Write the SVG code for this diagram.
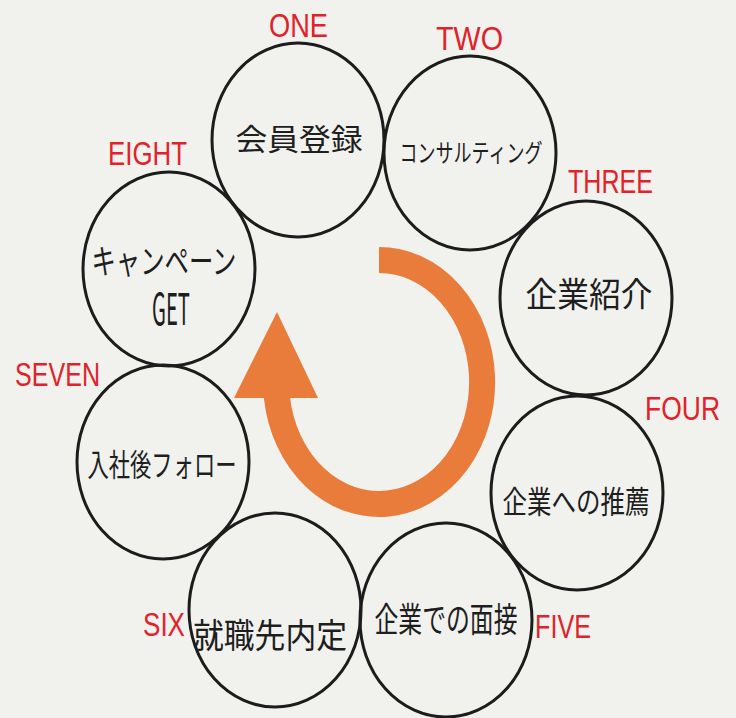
<svg xmlns="http://www.w3.org/2000/svg" width="736" height="718" viewBox="0 0 736 718">
<style>
.node ellipse{fill:none;stroke:#1c1c1c;stroke-width:3}
.jp{font-family:"Noto Sans CJK JP","Noto Sans",sans-serif;fill:#1e1e1e;text-anchor:middle}
.lbl{font-family:"Liberation Sans","Noto Sans",sans-serif;fill:#e1222b;font-size:33px}
</style>
<rect width="736" height="718" fill="#f1f2ee"/>
<g id="connectors">
<path d="M379 260 A103 122 0 1 1 277 398 L277 396" fill="none" stroke="#e97b3b" stroke-width="26"/>
<polygon points="234,398 318,398 277,312" fill="#e97b3b"/>
</g>
<g id="node-one" class="node">
<ellipse cx="298" cy="140" rx="86" ry="97"/>
<text class="jp" x="299" y="150" font-size="30" textLength="127" lengthAdjust="spacingAndGlyphs">会員登録</text>
<text class="lbl" x="269" y="37" textLength="59" lengthAdjust="spacingAndGlyphs">ONE</text>
</g>
<g id="node-two" class="node">
<ellipse cx="470" cy="153" rx="86" ry="97"/>
<text class="jp" x="471" y="162" font-size="25" textLength="143" lengthAdjust="spacingAndGlyphs">コンサルティング</text>
<text class="lbl" x="436" y="50" textLength="67" lengthAdjust="spacingAndGlyphs">TWO</text>
</g>
<g id="node-three" class="node">
<ellipse cx="586" cy="298" rx="86" ry="97"/>
<text class="jp" x="589" y="307" font-size="34" textLength="127" lengthAdjust="spacingAndGlyphs">企業紹介</text>
<text class="lbl" x="568" y="193" textLength="85" lengthAdjust="spacingAndGlyphs">THREE</text>
</g>
<g id="node-four" class="node">
<ellipse cx="577" cy="493" rx="86" ry="97"/>
<text class="jp" x="576" y="513" font-size="31" textLength="147" lengthAdjust="spacingAndGlyphs">企業への推薦</text>
<text class="lbl" x="645" y="420" textLength="75" lengthAdjust="spacingAndGlyphs">FOUR</text>
</g>
<g id="node-five" class="node">
<ellipse cx="446" cy="620" rx="86" ry="97"/>
<text class="jp" x="446" y="632" font-size="34" textLength="143" lengthAdjust="spacingAndGlyphs">企業での面接</text>
<text class="lbl" x="535" y="638" textLength="56" lengthAdjust="spacingAndGlyphs">FIVE</text>
</g>
<g id="node-six" class="node">
<ellipse cx="275" cy="610" rx="86" ry="97"/>
<text class="jp" x="270" y="648" font-size="34" textLength="154" lengthAdjust="spacingAndGlyphs">就職先内定</text>
<text class="lbl" x="143" y="636" textLength="42" lengthAdjust="spacingAndGlyphs">SIX</text>
</g>
<g id="node-seven" class="node">
<ellipse cx="163" cy="462" rx="86" ry="97"/>
<text class="jp" x="162" y="476" font-size="31" textLength="149" lengthAdjust="spacingAndGlyphs">入社後フォロー</text>
<text class="lbl" x="15" y="386" textLength="85" lengthAdjust="spacingAndGlyphs">SEVEN</text>
</g>
<g id="node-eight" class="node">
<ellipse cx="169" cy="269" rx="86" ry="97"/>
<text class="jp" x="164" y="274" font-size="34" textLength="145" lengthAdjust="spacingAndGlyphs">キャンペーン</text>
<text class="jp" x="171" y="325" font-size="44" font-family="Liberation Sans, sans-serif" textLength="38" lengthAdjust="spacingAndGlyphs">GET</text>
<text class="lbl" x="108" y="165" textLength="79" lengthAdjust="spacingAndGlyphs">EIGHT</text>
</g>
</svg>
